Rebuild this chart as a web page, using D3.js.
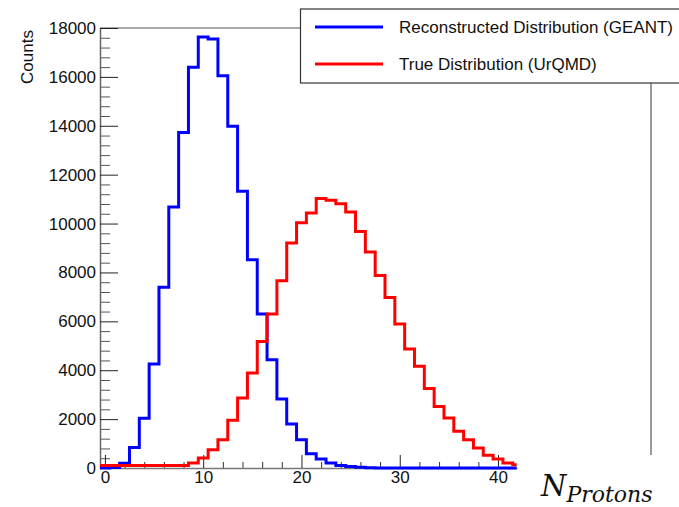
<!DOCTYPE html>
<html>
<head>
<meta charset="utf-8">
<script src="https://cdn.jsdelivr.net/npm/d3@7"></script>
<style>
  body { margin: 0; background: #fff; }
</style>
</head>
<body>
<svg id="chart" width="679" height="507" font-family="Liberation Sans, Arial, sans-serif"></svg>
<script>
// bin centres (bin width 1)
var binCenters = [0,1,2,3,4,5,6,7,8,9,10,11,12,13,14,15,16,17,18,19,20,
                  21,22,23,24,25,26,27,28,29,30,31,32,33,34,35,36,37,38,39,40,41,42]

// Reconstructed Distribution (GEANT)
var recoCounts = [0,20,190,840,2040,4250,7390,10680,13730,16390,17630,17550,16050,13980,11320,8520,6300,4430,2820,1800,1160,580,370,200,100,60,30,15,5,0,
                  0,0,0,0,0,0,0,0,0,0,0,0,0]

// True Distribution (UrQMD)
var trueCounts = [100,100,100,100,100,100,100,100,100,205,410,750,1160,1950,2860,3890,5180,6300,7660,9200,10030,10430,11020,10950,10810,10470,9680,8840,7870,6980,
                  5890,4870,4160,3250,2520,2050,1500,1160,820,520,370,205,135]

var yTicks = [0,2000,4000,6000,8000,10000,12000,14000,16000,18000]
var xTicks = [0,10,20,30,40]
var legendLabels = ["Reconstructed Distribution (GEANT)", "True Distribution (UrQMD)"]
var seriesColors = ["#0000ff", "#ff0000"]

var svg = d3.select("#chart")

var plotLeft = 100, plotRight = 516.7, plotTop = 28, plotBottom = 468

var x = d3.scaleLinear().domain([-0.5, 41.9]).range([plotLeft, plotRight])
var y = d3.scaleLinear().domain([0, 18000]).range([plotBottom, plotTop])

// frame pieces that are still visible
svg.append("line")
    .attr("x1", plotLeft).attr("x2", 300)
    .attr("y1", plotTop).attr("y2", plotTop)
    .attr("stroke", "#555").attr("stroke-width", 1.2)
svg.append("line")
    .attr("x1", 651).attr("x2", 651)
    .attr("y1", 83).attr("y2", 455)
    .attr("stroke", "#777").attr("stroke-width", 1.5)

// y axis: major + minor ticks pointing inward
var yMinor = d3.range(0, 18001, 400).filter(function(v){ return v % 2000 != 0 })
svg.append("g")
    .attr("transform", "translate(" + plotLeft + ",0)")
    .call(d3.axisLeft(y).tickValues(yMinor).tickSize(-10).tickSizeOuter(0).tickFormat(""))
    .call(function(g){ g.select(".domain").remove() })
    .selectAll("line").attr("stroke", "#555")

var yAxis = svg.append("g")
    .attr("transform", "translate(" + plotLeft + ",0)")
    .call(d3.axisLeft(y).tickValues(yTicks).tickSize(-18).tickSizeOuter(0).tickPadding(4).tickFormat(d3.format("d")))
yAxis.select(".domain").attr("stroke", "#666").attr("stroke-width", 1.5)
yAxis.selectAll("line").attr("stroke", "#222")
yAxis.selectAll("text")
    .style("font-size", "17px")
    .style("font-family", "Liberation Sans, Arial, sans-serif")
    .attr("fill", "#111")

// x axis
var xMinor = d3.range(0, 42, 2).filter(function(v){ return v % 10 != 0 })
svg.append("g")
    .attr("transform", "translate(0," + plotBottom + ")")
    .call(d3.axisBottom(x).tickValues(xMinor).tickSize(-6).tickSizeOuter(0).tickFormat(""))
    .call(function(g){ g.select(".domain").remove() })
    .selectAll("line").attr("stroke", "#333")

var xAxis = svg.append("g")
    .attr("transform", "translate(0," + plotBottom + ")")
    .call(d3.axisBottom(x).tickValues(xTicks).tickSize(-13).tickSizeOuter(0).tickPadding(3))
xAxis.select(".domain").attr("stroke", "#777").attr("stroke-width", 1.5)
xAxis.selectAll("line").attr("stroke", "#222")
xAxis.selectAll("text")
    .style("font-size", "17px")
    .style("font-family", "Liberation Sans, Arial, sans-serif")
    .attr("fill", "#111")

// y title
svg.append("text")
    .attr("transform", "translate(33,57) rotate(-90)")
    .attr("text-anchor", "middle")
    .style("font-size", "17px")
    .attr("fill", "#111")
    .text("Counts")

// x title N_Protons
var xt = svg.append("text")
    .attr("x", 541).attr("y", 496)
    .style("font-family", "DejaVu Serif, serif")
    .style("font-style", "italic")
    .attr("fill", "#111")
xt.append("tspan").style("font-size", "29px").text("N")
xt.append("tspan").attr("dy", 6).style("font-size", "22px").text("Protons")

// histograms
svg.append("clipPath").attr("id", "plotClip")
  .append("rect")
    .attr("x", plotLeft).attr("y", 0)
    .attr("width", plotRight - plotLeft).attr("height", 507)

var stepLine = d3.line()
    .x(function(d){ return x(d[0]) })
    .y(function(d){ return y(d[1]) })
    .curve(d3.curveStepAfter)

function histPoints(counts) {
  var pts = binCenters.map(function(c, i){ return [c - 0.5, counts[i]] })
  pts.push([binCenters[binCenters.length - 1] + 0.5, counts[counts.length - 1]])
  return pts
}

var series = [recoCounts, trueCounts]
svg.append("g")
    .attr("clip-path", "url(#plotClip)")
  .selectAll("path")
  .data(series)
  .enter()
  .append("path")
    .attr("d", function(d){ return stepLine(histPoints(d)) })
    .attr("fill", "none")
    .attr("stroke", function(d, i){ return seriesColors[i] })
    .attr("stroke-width", 3)
    .attr("stroke-linejoin", "miter")

// legend
var legend = svg.append("g")
legend.append("rect")
    .attr("x", 300.5).attr("y", 9)
    .attr("width", 420).attr("height", 74)
    .attr("fill", "#fff")
    .attr("stroke", "#333").attr("stroke-width", 1.2)

var items = legend.selectAll(".item")
  .data(legendLabels)
  .enter()
  .append("g")
    .attr("transform", function(d, i){ return "translate(0," + (27 + i * 37) + ")" })
items.append("line")
    .attr("x1", 315).attr("x2", 383)
    .attr("stroke", function(d, i){ return seriesColors[i] })
    .attr("stroke-width", 3)
items.append("text")
    .attr("x", 399).attr("y", 6)
    .style("font-size", "17px")
    .attr("fill", "#111")
    .text(function(d){ return d })
</script>
</body>
</html>
